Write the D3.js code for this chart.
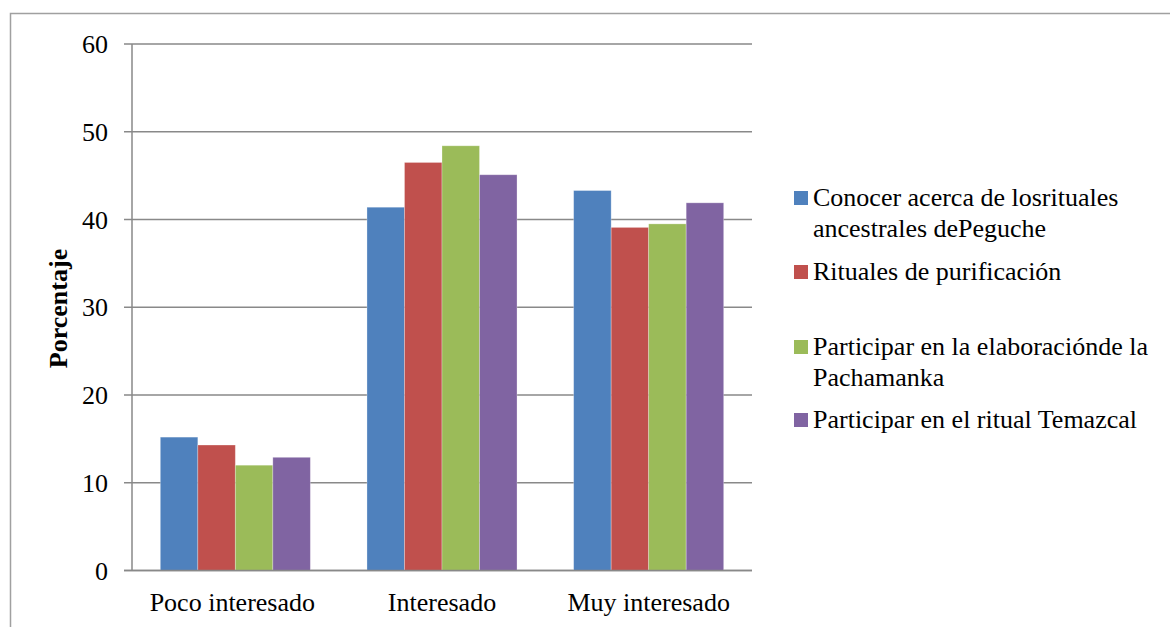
<!DOCTYPE html>
<html><head><meta charset="utf-8">
<script src="https://cdn.jsdelivr.net/npm/d3@7"></script>
<style>body{margin:0;background:#fff}svg{display:block}text{font-family:'Liberation Serif','DejaVu Serif',serif}</style>
</head><body><svg id="c" width="1170" height="627"></svg>
<script>
const categories = ["Poco interesado", "Interesado", "Muy interesado"];
const seriesNames = ["Conocer acerca de losrituales ancestrales dePeguche", "Rituales de purificación", "Participar en la elaboraciónde la Pachamanka", "Participar en el ritual Temazcal"];
const legendLines = [["Conocer acerca de losrituales", "ancestrales dePeguche"], ["Rituales de purificación"], ["Participar en la elaboraciónde la", "Pachamanka"], ["Participar en el ritual Temazcal"]];
const conocer = [15.2, 41.4, 43.3];
const rituales = [14.3, 46.5, 39.1];
const pachamanka = [12.0, 48.4, 39.5];
const temazcal = [12.9, 45.1, 41.9];
const yTicks = [0, 10, 20, 30, 40, 50, 60];
const colors = ["#4F81BD", "#C0504D", "#9BBB59", "#8064A2"];
const seriesValues = [conocer, rituales, pachamanka, temazcal];
const FONT = "'Liberation Serif', 'DejaVu Serif', serif";
const FS = 26;

const svg = d3.select("#c");
svg.append("path").attr("d", "M10.5,627 V13.5 H1170").attr("fill", "none").attr("stroke", "#a0a0a0").attr("stroke-width", 1.5);

const plotL = 132, plotR = 752;
const y = d3.scaleLinear().domain([0, 60]).range([570.5, 44]);
const x0 = d3.scaleBand().domain(categories).range([plotL, plotR]).paddingInner(0.274).paddingOuter(0.137);
const x1 = d3.scaleBand().domain(d3.range(seriesNames.length)).range([0, x0.bandwidth()]);

svg.append("g").selectAll("line").data(yTicks).join("line")
  .attr("x1", plotL - 8).attr("x2", plotR)
  .attr("y1", d => y(d)).attr("y2", d => y(d))
  .attr("stroke", "#898989").attr("stroke-width", 1.5);

const g = svg.append("g");
categories.forEach((c, ci) => {
  seriesValues.forEach((vals, si) => {
    g.append("rect")
      .attr("x", x0(c) + x1(si))
      .attr("y", y(vals[ci]))
      .attr("width", x1.bandwidth())
      .attr("height", y(0) - y(vals[ci]))
      .attr("fill", colors[si])
      .attr("stroke", "#ffffff").attr("stroke-opacity", 0.35).attr("stroke-width", 0.8);
  });
});

svg.append("line").attr("x1", plotL).attr("x2", plotL).attr("y1", y(60)).attr("y2", y(0))
  .attr("stroke", "#898989").attr("stroke-width", 1.5);
svg.append("line").attr("x1", plotL - 8).attr("x2", plotR).attr("y1", y(0)).attr("y2", y(0))
  .attr("stroke", "#898989").attr("stroke-width", 1.5);

svg.append("g").selectAll("text").data(yTicks).join("text")
  .attr("x", 108).attr("y", d => y(d) + 9)
  .attr("text-anchor", "end").attr("font-family", FONT).attr("font-size", FS).attr("fill", "#000")
  .text(d => d);

svg.append("g").selectAll("text").data(categories).join("text")
  .attr("x", d => x0(d) + x0.bandwidth() / 2 - (d === categories[0] ? 3 : 0)).attr("y", 611)
  .attr("text-anchor", "middle").attr("font-family", FONT).attr("font-size", FS).attr("fill", "#000")
  .text(d => d);

svg.append("text").attr("transform", "translate(67,308.5) rotate(-90)")
  .attr("text-anchor", "middle").attr("font-family", FONT).attr("font-size", FS).attr("font-weight", "bold").text("Porcentaje");

const legRows = [206, 280, 355, 428];
const lg = svg.append("g");
legendLines.forEach((lines, i) => {
  lg.append("rect").attr("x", 794).attr("y", legRows[i] - 15).attr("width", 14).attr("height", 14).attr("fill", colors[i]);
  lines.forEach((t, j) => {
    lg.append("text").attr("x", 813).attr("y", legRows[i] + j * 31).attr("font-family", FONT).attr("font-size", FS).attr("fill", "#000").text(t);
  });
});
</script></body></html>
